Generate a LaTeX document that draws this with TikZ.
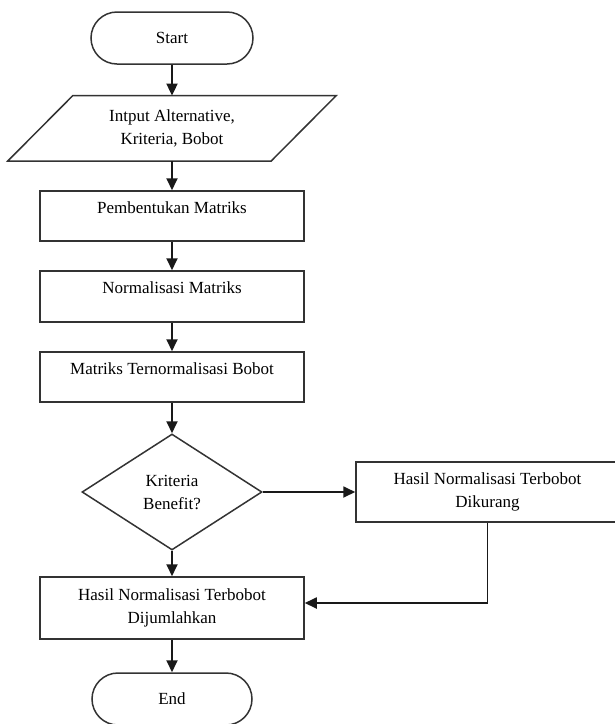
\documentclass[tikz,border=0pt]{standalone}
\usepackage{fontspec}
\setmainfont{Liberation Serif}
\usetikzlibrary{shapes.geometric,shapes.misc,arrows.meta}
\begin{document}
\begin{tikzpicture}[x=1pt,y=-1pt,
  every node/.style={font=\fontsize{17}{23}\selectfont},
  outl/.style={draw=black!80, line width=1.5pt},
  term/.style={outl, rounded rectangle, minimum width=162pt, minimum height=52pt, inner sep=0pt},
  procbox/.style={outl, rectangle, minimum width=264pt, inner sep=0pt, align=center},
  onebox/.style={procbox, text height=12pt, text depth=18pt},
  decide/.style={outl, diamond, minimum width=180pt, minimum height=116pt, inner sep=0pt, align=center},
  flow/.style={-{Triangle[width=11pt,length=12pt]}, line width=1.8pt, black!90}
]
\useasboundingbox (0,0) rectangle (615,724);

\node[term] (start) at (172,38) {Start};

\node[inner sep=0pt, minimum width=198pt, minimum height=65pt, align=center] (inp) at (172,128.3) {Intput Alternative,\\Kriteria, Bobot};
\draw[outl] (inp.north west) -- ([xshift=65pt]inp.north east) -- (inp.south east) -- ([xshift=-65pt]inp.south west) -- cycle;

\node[onebox, minimum height=50pt] (b1) at (172,216) {Pembentukan Matriks};
\node[onebox, minimum height=51pt] (b2) at (172,296.5) {Normalisasi Matriks};
\node[onebox, minimum height=50pt] (b3) at (172,377) {Matriks Ternormalisasi Bobot};

\node[decide] (dec) at (172,492) {Kriteria\\Benefit?};

\node[procbox, minimum width=263pt, minimum height=60pt] (kur) at (487.5,492) {Hasil Normalisasi Terbobot\\Dikurang};

\node[procbox, minimum height=62pt] (jum) at (172,608) {Hasil Normalisasi Terbobot\\Dijumlahkan};

\node[term, minimum width=160pt] (end) at (172,699) {End};

\draw[flow] (start) -- (inp);
\draw[flow] (inp) -- (b1);
\draw[flow] (b1) -- (b2);
\draw[flow] (b2) -- (b3);
\draw[flow] (b3) -- (dec);
\draw[flow] (dec) -- (kur);
\draw[flow] (dec) -- (jum);
\draw[flow] (kur.south) |- ([yshift=5pt]jum.east);
\draw[flow] (jum) -- (end);
\end{tikzpicture}
\end{document}
